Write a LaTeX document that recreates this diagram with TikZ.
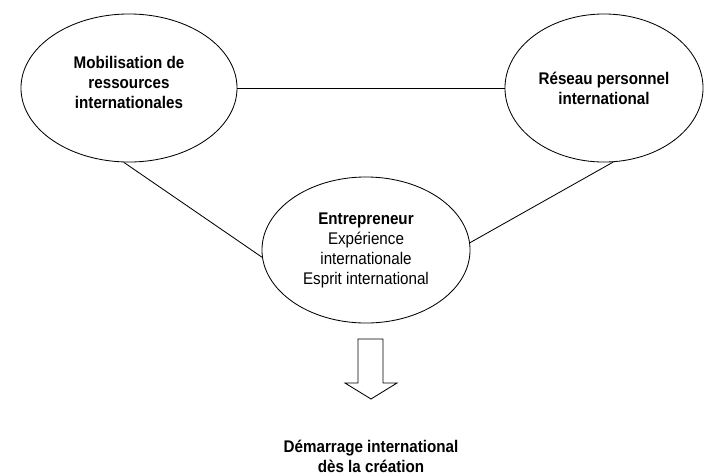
\documentclass[tikz,border=0pt]{standalone}
\usepackage{fontspec}
\setmainfont[FakeStretch=0.9]{Liberation Sans}
\usetikzlibrary{shapes.geometric}

\begin{document}
\begin{tikzpicture}[x=0.025cm,y=-0.025cm,
            font=\fontsize{12}{14.2}\selectfont,
            bubble/.style={ellipse,draw,line width=0.6pt,align=center,inner sep=0pt},
            link/.style={line width=0.6pt},
        ]
        \useasboundingbox (0,0) rectangle (704,475);
        % the three poles
        \node[bubble,minimum width=5.4cm,minimum height=3.7cm,
            label={[align=center,yshift=0.15cm]center:\textbf{Mobilisation de}\\\textbf{ressources}\\\textbf{internationales}}]
            (ressources) at (129,88) {};
        \node[bubble,minimum width=4.95cm,minimum height=3.7cm] (reseau) at (604,88)
            {\textbf{Réseau personnel}\\\textbf{international}};
        \node[bubble,minimum width=5.2cm,minimum height=3.65cm] (entrepreneur) at (366,250)
            {\textbf{Entrepreneur}\\Expérience\\internationale\\Esprit international};
        \draw[link] (ressources.east) -- (reseau.west);
        \draw[link] (ressources.266) -- (entrepreneur.184);
        \draw[link] (reseau.277) -- (entrepreneur.4);
        % block arrow
        \draw[link] (358,339) -- (383,339) -- (383,383) -- (397,383) -- (371,399)
            -- (345,383) -- (358,383) -- cycle;
        \node[align=center] (demarrage) at (371,456)
            {\textbf{Démarrage international}\\\textbf{dès la création}};
    \end{tikzpicture}
\end{document}
